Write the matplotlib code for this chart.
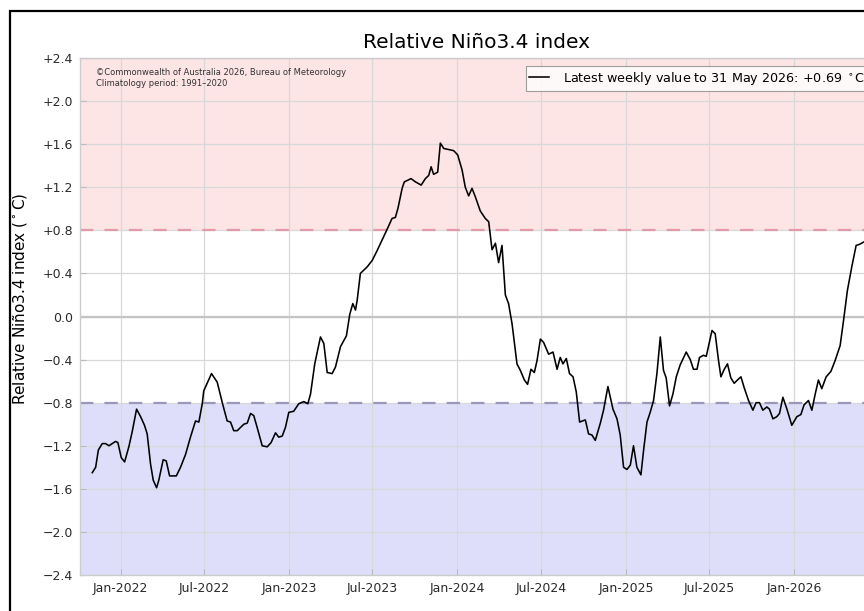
import matplotlib
matplotlib.use("Agg")
import matplotlib.pyplot as plt
import matplotlib.dates as mdates
import matplotlib.patches as mpatches
from matplotlib.ticker import FuncFormatter
import pandas as pd

# ---- data ----
# time as decimal year, value in degrees C
time_dec = [
    2021.832, 2021.852, 2021.868, 2021.891, 2021.911, 2021.931, 2021.970, 2021.984,
    2022.004, 2022.024, 2022.049, 2022.069, 2022.095, 2022.119, 2022.142, 2022.158,
    2022.178, 2022.194, 2022.214, 2022.227, 2022.253, 2022.271, 2022.291, 2022.316,
    2022.331, 2022.356, 2022.386, 2022.415, 2022.445, 2022.465, 2022.485, 2022.494,
    2022.540, 2022.574, 2022.604, 2022.633, 2022.653, 2022.672, 2022.693, 2022.732,
    2022.752, 2022.772, 2022.791, 2022.811, 2022.841, 2022.871, 2022.894, 2022.920,
    2022.939, 2022.960, 2022.979, 2022.999, 2023.028, 2023.058, 2023.088, 2023.112,
    2023.128, 2023.153, 2023.187, 2023.207, 2023.227, 2023.256, 2023.276, 2023.306,
    2023.341, 2023.361, 2023.379, 2023.395, 2023.405, 2023.424, 2023.444, 2023.464,
    2023.494, 2023.523, 2023.553, 2023.583, 2023.612, 2023.632, 2023.648, 2023.672,
    2023.685, 2023.725, 2023.751, 2023.785, 2023.810, 2023.830, 2023.844, 2023.859,
    2023.883, 2023.899, 2023.919, 2023.948, 2023.978, 2024.002, 2024.028, 2024.047,
    2024.067, 2024.087, 2024.107, 2024.136, 2024.166, 2024.186, 2024.206, 2024.226,
    2024.245, 2024.265, 2024.285, 2024.304, 2024.325, 2024.354, 2024.374, 2024.398,
    2024.417, 2024.437, 2024.457, 2024.473, 2024.493, 2024.512, 2024.542, 2024.568,
    2024.592, 2024.611, 2024.627, 2024.647, 2024.666, 2024.687, 2024.706, 2024.726,
    2024.760, 2024.779, 2024.799, 2024.819, 2024.849, 2024.868, 2024.894, 2024.924,
    2024.948, 2024.967, 2024.987, 2025.007, 2025.027, 2025.046, 2025.066, 2025.090,
    2025.106, 2025.126, 2025.145, 2025.165, 2025.185, 2025.205, 2025.224, 2025.240,
    2025.260, 2025.280, 2025.300, 2025.323, 2025.359, 2025.383, 2025.402, 2025.423,
    2025.438, 2025.462, 2025.478, 2025.512, 2025.531, 2025.551, 2025.565, 2025.585,
    2025.604, 2025.624, 2025.644, 2025.663, 2025.684, 2025.703, 2025.729, 2025.755,
    2025.774, 2025.794, 2025.814, 2025.838, 2025.853, 2025.874, 2025.897, 2025.913,
    2025.933, 2025.957, 2025.986, 2026.016, 2026.040, 2026.059, 2026.085, 2026.105,
    2026.125, 2026.144, 2026.164, 2026.190, 2026.218, 2026.243, 2026.273, 2026.293,
    2026.316, 2026.342, 2026.368, 2026.388, 2026.411,
]
values = [
    -1.45, -1.40, -1.24, -1.18, -1.18, -1.20, -1.16, -1.17,
    -1.31, -1.35, -1.21, -1.07, -0.86, -0.93, -1.01, -1.09,
    -1.37, -1.52, -1.59, -1.52, -1.33, -1.34, -1.48, -1.48,
    -1.48, -1.40, -1.28, -1.12, -0.97, -0.98, -0.81, -0.69,
    -0.53, -0.61, -0.80, -0.97, -0.98, -1.06, -1.06, -1.00,
    -0.99, -0.90, -0.92, -1.03, -1.20, -1.21, -1.17, -1.08,
    -1.12, -1.11, -1.03, -0.89, -0.88, -0.81, -0.79, -0.81,
    -0.72, -0.44, -0.19, -0.25, -0.52, -0.53, -0.47, -0.28,
    -0.18, 0.02, 0.12, 0.06, 0.15, 0.40, 0.43, 0.46,
    0.52, 0.61, 0.71, 0.81, 0.91, 0.92, 1.01, 1.19,
    1.25, 1.28, 1.25, 1.22, 1.28, 1.31, 1.39, 1.32,
    1.34, 1.61, 1.56, 1.55, 1.54, 1.50, 1.36, 1.20,
    1.12, 1.19, 1.11, 0.98, 0.91, 0.88, 0.62, 0.68,
    0.50, 0.66, 0.20, 0.12, -0.07, -0.44, -0.50, -0.59,
    -0.63, -0.49, -0.52, -0.41, -0.21, -0.24, -0.35, -0.33,
    -0.49, -0.38, -0.44, -0.39, -0.53, -0.56, -0.70, -0.98,
    -0.96, -1.09, -1.10, -1.15, -0.99, -0.87, -0.65, -0.86,
    -0.95, -1.10, -1.40, -1.42, -1.38, -1.20, -1.40, -1.47,
    -1.24, -0.98, -0.89, -0.78, -0.53, -0.19, -0.50, -0.57,
    -0.83, -0.72, -0.56, -0.45, -0.33, -0.40, -0.49, -0.49,
    -0.38, -0.36, -0.37, -0.13, -0.16, -0.41, -0.56, -0.49,
    -0.44, -0.57, -0.62, -0.59, -0.56, -0.66, -0.78, -0.87,
    -0.80, -0.80, -0.87, -0.84, -0.86, -0.95, -0.93, -0.90,
    -0.75, -0.86, -1.01, -0.93, -0.91, -0.82, -0.78, -0.87,
    -0.72, -0.59, -0.67, -0.56, -0.51, -0.41, -0.27, -0.04,
    0.24, 0.46, 0.66, 0.67, 0.69,
]
y_ticks = [-2.4, -2.0, -1.6, -1.2, -0.8, -0.4, 0.0, 0.4, 0.8, 1.2, 1.6, 2.0, 2.4]
x_tick_dates = ["2022-01-01", "2022-07-01", "2023-01-01", "2023-07-01", "2024-01-01",
                "2024-07-01", "2025-01-01", "2025-07-01", "2026-01-01"]
el_nino_threshold = 0.8
la_nina_threshold = -0.8
title = "Relative Ni\u00f1o3.4 index"
ylabel = "Relative Ni\u00f1o3.4 index ($^\\circ$C)"
legend_label = "Latest weekly value to 31 May 2026: +0.69 $^\\circ$C"
credit = "\u00a9Commonwealth of Australia 2026, Bureau of Meteorology\nClimatology period: 1991\u20132020"

# ---- conversion ----
base = pd.Timestamp("2022-01-01")
dates = [base + pd.Timedelta(days=(t - 2022.0) * 365.25) for t in time_dec]

# ---- figure ----
W, H = 864, 611
fig = plt.figure(figsize=(W / 100, H / 100), dpi=100)
fig.patch.set_facecolor("white")

ax = fig.add_axes([80 / W, (H - 575) / H, (873 - 80) / W, (575 - 58) / H])
ymin, ymax = -2.4, 2.4
ax.set_ylim(ymin, ymax)
ax.set_xlim(pd.Timestamp("2021-10-05"), pd.Timestamp("2026-06-21"))

ax.axhspan(el_nino_threshold, ymax, color="#fde4e5", zorder=0, lw=0)
ax.axhspan(ymin, la_nina_threshold, color="#dedefa", zorder=0, lw=0)

ax.grid(True, color="#d8d8d8", lw=0.9, zorder=1)
ax.set_axisbelow(True)
ax.axhline(0.0, color="#c4c4c4", lw=1.6, zorder=2)
ax.axhline(el_nino_threshold, color="#e39aa8", lw=1.6, ls=(0, (6, 5)), zorder=2)
ax.axhline(la_nina_threshold, color="#9898b8", lw=1.6, ls=(0, (6, 5)), zorder=2)

ax.plot(dates, values, color="black", lw=1.15, zorder=3, label=legend_label)

ax.set_yticks(y_ticks)
ax.yaxis.set_major_formatter(FuncFormatter(
    lambda v, p: "0.0" if abs(v) < 1e-9 else ("+%.1f" % v if v > 0 else "\u2212%.1f" % abs(v))))
ax.set_xticks([pd.Timestamp(d) for d in x_tick_dates])
ax.xaxis.set_major_formatter(mdates.DateFormatter("%b-%Y"))
ax.tick_params(axis="both", direction="in", length=4, color="#bbbbbb",
               labelsize=9, labelcolor="#2a2a2a", pad=5)

for s in ax.spines.values():
    s.set_color("#cccccc")
    s.set_linewidth(1.0)

ax.set_title(title, fontsize=14.5, pad=7)
ax.set_ylabel(ylabel, fontsize=11)
ax.yaxis.set_label_coords(-0.064, 0.534)

ax.text(0.02, 0.981, credit, transform=ax.transAxes, fontsize=6.0, va="top",
        ha="left", color="#333333", linespacing=1.35)

leg = ax.legend(loc="upper right", bbox_to_anchor=(0.9945, 0.9845), borderaxespad=0,
                fontsize=9.2, frameon=True, fancybox=False, handlelength=1.5,
                borderpad=0.3, handletextpad=1.1)
leg.get_frame().set_edgecolor("#888888")
leg.get_frame().set_linewidth(0.8)

# figure border (partly outside the cropped picture)
fig.patches.append(mpatches.Rectangle((10 / W, -0.1), 1.2, (H - 11) / H + 0.1,
                                      transform=fig.transFigure, fill=False,
                                      edgecolor="black", lw=1.6, clip_on=False))

fig.savefig("out.png", dpi=100)
